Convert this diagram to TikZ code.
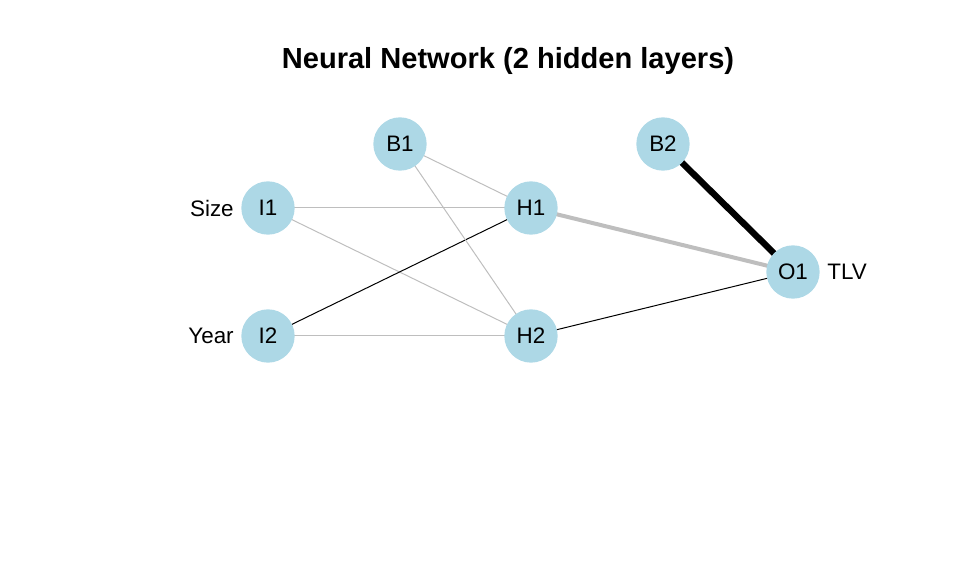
\documentclass[tikz,border=0pt]{standalone}
\usepackage{fontspec}
\setmainfont{Liberation Sans}
\usepackage{tikz}
\usetikzlibrary{positioning,backgrounds}

\definecolor{nodeblue}{HTML}{ADD8E6}
\definecolor{wgray}{HTML}{BEBEBE}

\begin{document}
\begin{tikzpicture}[x=0.75pt,y=-0.75pt,
	neuron/.style={circle,fill=nodeblue,draw=none,minimum size=40pt,inner sep=0pt,font=\fontsize{16.8}{20}\selectfont},
	lbl/.style={draw=none,font=\fontsize{16.8}{20}\selectfont},
	negw/.style={wgray,line width=0.75pt},
	posw/.style={black,line width=0.75pt}]
			\useasboundingbox (0,0) rectangle (957,573);
			\node[font=\bfseries\fontsize{21.8}{26}\selectfont] (title) at (508,61) {Neural Network (2 hidden layers)};

			\node[neuron] (b1) at (400,144) {B1};
			\node[neuron] (i1) at (268,208) {I1};
			\node[neuron] (i2) at (268,336) {I2};
			\node[neuron] (h1) at (531,208) {H1};
			\node[neuron] (h2) at (531,336) {H2};
			\node[neuron] (b2) at (663,144) {B2};
			\node[neuron] (o1) at (793,272) {O1};

			\node[lbl, left=2pt of i1] (size) {Size};
			\node[lbl, left=2pt of i2] (year) {Year};
			\node[lbl, right=2pt of o1] (tlv) {TLV};

			% weights behind the circles
			\begin{pgfonlayer}{background}
			\draw[negw] (i1.center) -- (h1.center);
			\draw[negw] (i1.center) -- (h2.center);
			\draw[posw] (i2.center) -- (h1.center);
			\draw[negw] (i2.center) -- (h2.center);
			\draw[negw] (b1.center) -- (h1.center);
			\draw[negw] (b1.center) -- (h2.center);
			\draw[wgray,line width=3pt] (h1.center) -- (o1.center);
			\draw[posw] (h2.center) -- (o1.center);
			\draw[black,line width=4.8pt] (b2.center) -- (o1.center);
			\end{pgfonlayer}
		\end{tikzpicture}
\end{document}
